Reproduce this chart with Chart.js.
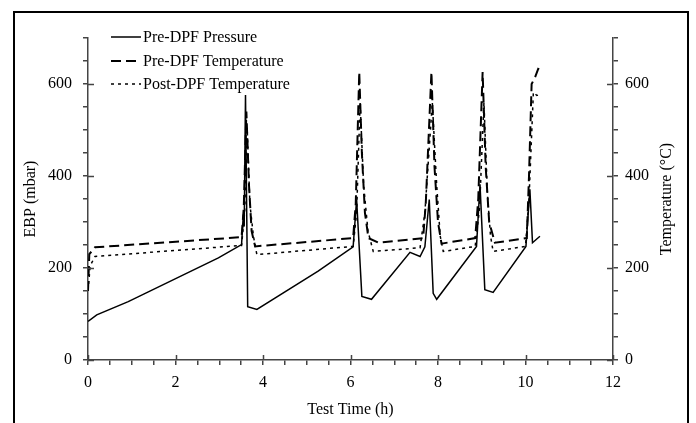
<!DOCTYPE html>
<html>
<head>
<meta charset="utf-8">
<script src="https://cdn.jsdelivr.net/npm/chart.js@4"></script>
<style>
    body { margin: 0; background: #fff; }
    canvas { display: block; }
</style>
</head>
<body>
<canvas id="dpfChart" width="696" height="423"></canvas>
<script>
// values
const pressureTime = [0, 0.2, 0.92, 2.98, 3.51, 3.55, 3.57, 3.6, 3.65, 3.86, 5.26, 6.06, 6.14, 6.26, 6.48, 7.36, 7.59, 7.7, 7.8, 7.89, 7.97, 8.88, 8.96, 9.07, 9.26, 10.01, 10.1, 10.16, 10.33];
const pressureEBP = [84, 98, 127, 222, 251, 316, 290, 576, 116, 110, 193, 246, 349, 138, 132, 234, 225, 246, 349, 145, 132, 247, 382, 153, 147, 247, 371, 255, 269];

const preTempTime = [0, 0.03, 0.16, 3.51, 3.56, 3.62, 3.68, 3.74, 3.82, 6.06, 6.12, 6.2, 6.26, 6.33, 6.41, 6.64, 7.66, 7.72, 7.85, 7.92, 8.0, 8.08, 8.85, 8.92, 9.02, 9.09, 9.17, 9.3, 10.03, 10.08, 10.14, 10.22, 10.29, 10.35];
const preTemp = [150, 230, 245, 267, 330, 540, 380, 280, 247, 265, 340, 626, 450, 320, 265, 255, 265, 340, 626, 420, 300, 253, 265, 350, 626, 420, 300, 255, 265, 400, 600, 615, 633, 630];

const postTempTime = [0, 0.05, 0.16, 3.51, 3.58, 3.64, 3.7, 3.78, 3.86, 6.06, 6.14, 6.22, 6.3, 6.4, 6.52, 7.59, 7.7, 7.87, 7.97, 8.05, 8.12, 8.85, 8.95, 9.05, 9.13, 9.2, 9.26, 10.0, 10.08, 10.18, 10.26, 10.35];
const postTemp = [150, 205, 225, 249, 320, 500, 340, 270, 229, 247, 320, 560, 380, 280, 236, 244, 320, 560, 380, 270, 236, 247, 330, 560, 360, 270, 236, 247, 350, 582, 575, 578];

const seriesLabels = ["Pre-DPF Pressure", "Pre-DPF Temperature", "Post-DPF Temperature"];

const FONT = "'Liberation Serif', 'Times New Roman', serif";
const AXIS = "#444";

function toPoints(xs, ys) {
    return xs.map((x, i) => ({ x: x, y: ys[i] }));
}

// frame, inner halves of major ticks, axis titles and the legend
const extras = {
    id: "extras",
    afterDraw(chart) {
        const ctx = chart.ctx;
        const a = chart.chartArea;
        const sx = chart.scales.x;
        const sy = chart.scales.y;
        ctx.save();

        ctx.strokeStyle = AXIS;
        ctx.lineWidth = 1.5;
        ctx.beginPath();
        for (let v = 0; v <= 600; v += 200) {
            const py = Math.round(sy.getPixelForValue(v)) + 0.5;
            ctx.moveTo(a.left, py);
            ctx.lineTo(a.left + 6, py);
            ctx.moveTo(a.right, py);
            ctx.lineTo(a.right - 6, py);
        }
        for (let t = 0; t <= 12; t += 2) {
            const px = Math.round(sx.getPixelForValue(t)) + 0.5;
            ctx.moveTo(px, a.bottom);
            ctx.lineTo(px, a.bottom - 5);
        }
        ctx.stroke();

        ctx.strokeStyle = "#000";
        ctx.lineWidth = 2;
        ctx.strokeRect(14, 12, 674, 430);

        ctx.fillStyle = "#000";
        ctx.font = "16px " + FONT;
        ctx.textAlign = "center";
        ctx.textBaseline = "middle";
        ctx.fillText("Test Time (h)", (a.left + a.right) / 2, 410);

        ctx.save();
        ctx.translate(31, (a.top + a.bottom) / 2);
        ctx.rotate(-Math.PI / 2);
        ctx.fillText("EBP (mbar)", 0, 0);
        ctx.restore();

        ctx.save();
        ctx.translate(667, (a.top + a.bottom) / 2);
        ctx.rotate(-Math.PI / 2);
        ctx.fillText("Temperature (\u00B0C)", 0, 0);
        ctx.restore();

        // legend
        ctx.textAlign = "left";
        const rows = [37, 61, 84];
        chart.data.datasets.forEach((ds, i) => {
            ctx.strokeStyle = "#000";
            ctx.lineWidth = ds.borderWidth;
            ctx.setLineDash(ds.borderDash || []);
            ctx.beginPath();
            ctx.moveTo(111, rows[i]);
            ctx.lineTo(141, rows[i]);
            ctx.stroke();
            ctx.setLineDash([]);
            ctx.fillText(ds.label, 143, rows[i] + 1);
        });

        ctx.restore();
    },
};

const tickFont = { family: FONT, size: 16 };

new Chart(document.getElementById("dpfChart"), {
    type: "line",
    data: {
        datasets: [
            {
                label: seriesLabels[0],
                data: toPoints(pressureTime, pressureEBP),
                yAxisID: "y",
                borderColor: "#000",
                borderWidth: 1.5,
                pointRadius: 0,
                tension: 0,
            },
            {
                label: seriesLabels[1],
                data: toPoints(preTempTime, preTemp),
                yAxisID: "y2",
                borderColor: "#000",
                borderWidth: 2,
                borderDash: [10, 5],
                pointRadius: 0,
                tension: 0,
            },
            {
                label: seriesLabels[2],
                data: toPoints(postTempTime, postTemp),
                yAxisID: "y2",
                borderColor: "#000",
                borderWidth: 1.5,
                borderDash: [3, 4],
                pointRadius: 0,
                tension: 0,
            },
        ],
    },
    options: {
        responsive: false,
        animation: false,
        layout: { padding: { top: 38, left: 0, right: 0, bottom: 0 } },
        plugins: {
            legend: { display: false },
            tooltip: { enabled: false },
        },
        scales: {
            x: {
                type: "linear",
                min: 0,
                max: 12,
                afterFit: (scale) => { scale.height = 63; },
                ticks: {
                    stepSize: 0.5,
                    autoSkip: false,
                    maxRotation: 0,
                    padding: 8,
                    color: "#000",
                    font: tickFont,
                    callback: (v) => (v % 2 === 0 ? v : ""),
                },
                grid: { drawOnChartArea: false, tickLength: 5, color: AXIS, lineWidth: 1.5 },
                border: { color: AXIS, width: 1.5 },
            },
            y: {
                position: "left",
                min: 0,
                max: 700,
                afterFit: (scale) => { scale.width = 88; },
                ticks: {
                    stepSize: 50,
                    autoSkip: false,
                    padding: 11,
                    color: "#000",
                    font: tickFont,
                    callback: (v) => (v % 200 === 0 ? v : ""),
                },
                grid: { drawOnChartArea: false, tickLength: 5, color: AXIS, lineWidth: 1.5 },
                border: { color: AXIS, width: 1.5 },
            },
            y2: {
                position: "right",
                min: 0,
                max: 700,
                afterFit: (scale) => { scale.width = 83; },
                ticks: {
                    stepSize: 50,
                    autoSkip: false,
                    padding: 7,
                    color: "#000",
                    font: tickFont,
                    callback: (v) => (v % 200 === 0 ? v : ""),
                },
                grid: { drawOnChartArea: false, tickLength: 5, color: AXIS, lineWidth: 1.5 },
                border: { color: AXIS, width: 1.5 },
            },
        },
    },
    plugins: [extras],
});
</script>
</body>
</html>
